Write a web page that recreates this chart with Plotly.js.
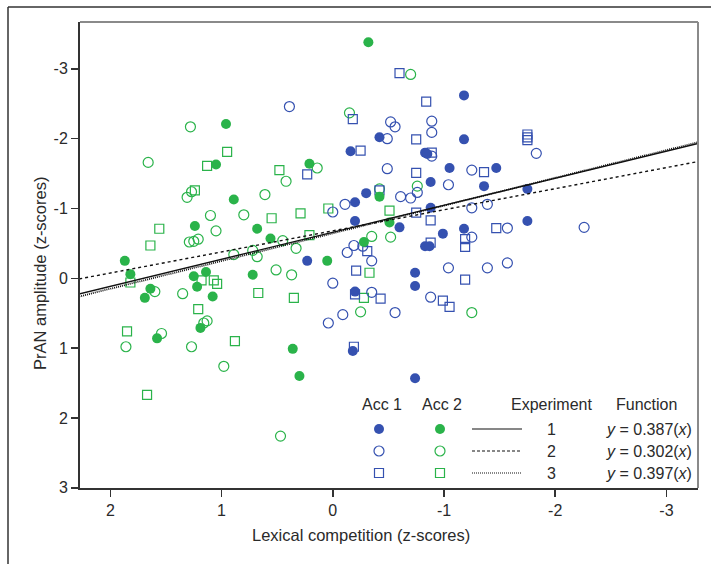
<!DOCTYPE html>
<html>
<head>
<meta charset="utf-8">
<script src="https://cdn.plot.ly/plotly-3.0.1.min.js"></script>
<style>html,body{margin:0;padding:0;background:#fff;}#chart{width:711px;height:564px;}</style>
</head>
<body>
<div id="chart"></div>
<script>
// ---- Data (Lexical competition z, PrAN amplitude z) ----
// Acc 1 (blue), Experiment 1 (filled circles)
const acc1Exp1X = [-1.18,-1.18,-0.42,-0.16,-0.83,-0.85,-1.05,-1.47,-0.88,-1.36,-1.75,-0.30,-0.20,-0.20,-0.88,-1.75,-0.60,-1.18,-0.99,-0.83,-0.87,0.23,-0.74,-0.74,-0.20,-0.18,-0.74];
const acc1Exp1Y = [-2.62,-1.99,-2.02,-1.82,-1.80,-1.78,-1.58,-1.58,-1.38,-1.32,-1.28,-1.22,-1.09,-0.82,-1.01,-0.82,-0.73,-0.71,-0.64,-0.46,-0.46,-0.25,-0.08,0.11,0.19,1.04,1.43];
// Acc 1 (blue), Experiment 2 (open circles)
const acc1Exp2X = [0.39,-0.52,-0.56,-0.89,-0.89,-0.49,-0.89,-1.83,-0.49,-1.25,-1.04,-0.61,-0.70,-0.76,-0.11,0.00,-1.25,-1.39,-1.57,-2.26,-1.25,-0.19,-0.27,-0.13,-0.35,0.00,-0.35,-0.09,0.04,-0.56,-1.04,-1.39,-1.57,-0.88];
const acc1Exp2Y = [-2.46,-2.24,-2.17,-2.25,-2.09,-2.00,-1.75,-1.79,-1.57,-1.55,-1.34,-1.17,-1.15,-1.23,-1.06,-0.95,-1.01,-1.06,-0.72,-0.73,-0.59,-0.47,-0.46,-0.37,-0.25,0.07,0.20,0.52,0.64,0.49,-0.15,-0.15,-0.22,0.27];
// Acc 1 (blue), Experiment 3 (open squares)
const acc1Exp3X = [-0.60,-0.84,-0.18,0.23,-0.25,-0.75,-0.89,-1.75,-1.75,-1.75,-0.75,-1.36,-0.42,-0.75,-0.88,-1.47,-1.19,-1.19,-0.88,-0.31,-0.21,-0.43,-0.99,-1.05,-1.19,-0.19,-0.20];
const acc1Exp3Y = [-2.94,-2.53,-2.28,-1.49,-1.83,-1.99,-1.80,-2.06,-2.02,-1.98,-1.51,-1.52,-1.26,-0.94,-0.83,-0.72,-0.56,-0.45,-0.51,-0.39,-0.11,0.29,0.32,0.41,0.02,0.98,0.23];
// Acc 2 (green), Experiment 1 (filled circles)
const acc2Exp1X = [-0.32,0.96,1.05,0.21,0.89,1.24,0.68,0.56,1.87,0.05,0.72,1.14,1.25,1.82,1.64,1.22,1.69,1.08,1.19,1.58,0.36,0.30,-0.42,-0.51,-0.28];
const acc2Exp1Y = [-3.38,-2.21,-1.63,-1.64,-1.13,-0.75,-0.71,-0.57,-0.25,-0.25,-0.05,-0.09,-0.03,-0.06,0.15,0.12,0.28,0.26,0.71,0.86,1.01,1.40,-1.17,-0.80,-0.52];
// Acc 2 (green), Experiment 2 (open circles)
const acc2Exp2X = [1.28,1.66,0.14,0.42,-0.15,-0.70,1.31,1.27,0.61,1.10,0.80,1.05,1.29,1.25,1.21,0.45,0.89,0.72,0.68,0.33,0.51,0.37,1.60,1.35,1.13,1.16,1.54,1.86,1.27,0.98,0.47,-0.42,-0.76,-0.35,-0.52,-0.25,-1.25];
const acc2Exp2Y = [-2.17,-1.66,-1.58,-1.39,-2.37,-2.92,-1.16,-1.24,-1.20,-0.90,-0.91,-0.68,-0.52,-0.53,-0.56,-0.54,-0.34,-0.40,-0.31,-0.43,-0.12,-0.05,0.19,0.22,0.61,0.64,0.79,0.98,0.98,1.26,2.26,-1.28,-1.32,-0.60,-0.59,0.48,0.49];
// Acc 2 (green), Experiment 3 (open squares)
const acc2Exp3X = [0.95,1.13,1.24,0.48,1.56,1.64,0.04,0.29,0.55,0.21,1.82,1.18,1.07,1.04,0.67,0.35,1.21,1.85,0.88,1.67,-0.51,-0.33,-0.28];
const acc2Exp3Y = [-1.81,-1.61,-1.26,-1.55,-0.71,-0.47,-1.00,-0.93,-0.86,-0.62,0.06,0.03,0.03,0.08,0.21,0.28,0.44,0.76,0.90,1.67,-0.97,-0.08,0.28];

// Regression functions per experiment
const experiments = ['1', '2', '3'];
const slopes = [0.387, 0.302, 0.397];
const intercepts = [-0.66, -0.68, -0.645];
const fitX = [2.28, -3.29];

// Axes
const xRange = [2.273, -3.284];
const yRange = [3.003, -3.671];
const xTicks = [2, 1, 0, -1, -2, -3];
const yTicks = [-3, -2, -1, 0, 1, 2, 3];

const BLUE = '#3551b0';
const GREEN = '#2ab34a';
const FONT = 'Liberation Sans, Arial, Helvetica, sans-serif';
const TXT = '#2a2a2a';

function pts(x, y, color, symbol) {
  const open = symbol !== 'circle';
  return {
    type: 'scatter', mode: 'markers', x: x, y: y, showlegend: false, hoverinfo: 'skip',
    marker: {
      symbol: symbol, size: symbol === 'square-open' ? 9 : 10,
      color: color, line: {color: color, width: open ? 1.2 : 0}
    }
  };
}

const traces = [
  pts(acc2Exp2X, acc2Exp2Y, GREEN, 'circle-open'),
  pts(acc2Exp3X, acc2Exp3Y, GREEN, 'square-open'),
  pts(acc1Exp2X, acc1Exp2Y, BLUE, 'circle-open'),
  pts(acc1Exp3X, acc1Exp3Y, BLUE, 'square-open'),
  pts(acc2Exp1X, acc2Exp1Y, GREEN, 'circle'),
  pts(acc1Exp1X, acc1Exp1Y, BLUE, 'circle')
];

const dashes = ['solid', '3px,3px', '1px,1px'];
const widths = [1.4, 1.4, 1.8];
experiments.forEach((e, i) => {
  traces.push({
    type: 'scatter', mode: 'lines', x: fitX,
    y: fitX.map(v => slopes[i] * v + intercepts[i]),
    line: {color: '#111', width: widths[i], dash: dashes[i]},
    showlegend: false, hoverinfo: 'skip'
  });
});

// ---- Table-style key (drawn in pixel-like overlay axes) ----
const keyRowsY = [429, 451, 473];
const keyAcc1X = 379, keyAcc2X = 440;
const keySymbols = ['circle', 'circle-open', 'square-open'];
keyRowsY.forEach((ry, i) => {
  [[keyAcc1X, BLUE], [keyAcc2X, GREEN]].forEach(([kx, col]) => {
    const open = keySymbols[i] !== 'circle';
    traces.push({
      type: 'scatter', mode: 'markers', x: [kx], y: [ry], xaxis: 'x2', yaxis: 'y2',
      showlegend: false, hoverinfo: 'skip',
      marker: {symbol: keySymbols[i], size: keySymbols[i] === 'square-open' ? 9 : 10,
               color: col, line: {color: col, width: open ? 1.2 : 0}}
    });
  });
});

const shapes = [
  // top and right frame (grey)
  {type: 'line', xref: 'paper', yref: 'paper', x0: 0, x1: 1, y0: 1, y1: 1, line: {color: '#8a8a8a', width: 2}},
  {type: 'line', xref: 'paper', yref: 'paper', x0: 1, x1: 1, y0: 0, y1: 1, line: {color: '#8a8a8a', width: 2}},
  // outer figure border
  {type: 'line', xref: 'paper', yref: 'paper', x0: -0.1165, x1: 1.03, y0: 1.032, y1: 1.032, line: {color: '#333', width: 1.5}},
  {type: 'line', xref: 'paper', yref: 'paper', x0: -0.1165, x1: -0.1165, y0: 1.032, y1: -0.2, line: {color: '#333', width: 1.5}}
];
keyRowsY.forEach((ry, i) => {
  shapes.push({type: 'line', xref: 'x2', yref: 'y2', x0: 472, x1: 522, y0: ry, y1: ry,
               line: {color: '#111', width: 1.2, dash: i === 0 ? 'solid' : (i === 1 ? '3px,2px' : '1px,1px')}});
});

const annotations = [
  {xref: 'x2', yref: 'y2', x: 382, y: 404, text: 'Acc 1', showarrow: false, font: {family: FONT, size: 16, color: TXT}},
  {xref: 'x2', yref: 'y2', x: 442, y: 404, text: 'Acc 2', showarrow: false, font: {family: FONT, size: 16, color: TXT}},
  {xref: 'x2', yref: 'y2', x: 551, y: 404, text: 'Experiment', showarrow: false, font: {family: FONT, size: 16, color: TXT}},
  {xref: 'x2', yref: 'y2', x: 646, y: 404, text: 'Function', showarrow: false, font: {family: FONT, size: 16, color: TXT}},
  {xref: 'paper', yref: 'paper', x: (40 - 80) / 618, y: (488 - 274) / 466, text: 'PrAN amplitude (z-scores)', textangle: -90,
   xanchor: 'center', yanchor: 'middle', showarrow: false, font: {family: FONT, size: 16.5, color: TXT}},
  {xref: 'paper', yref: 'paper', x: (361 - 80) / 618, y: (488 - 535) / 466, text: 'Lexical competition (z-scores)',
   xanchor: 'center', yanchor: 'middle', showarrow: false, font: {family: FONT, size: 16.5, color: TXT}}
];
keyRowsY.forEach((ry, i) => {
  annotations.push({xref: 'x2', yref: 'y2', x: 551, y: ry, text: experiments[i], showarrow: false,
                    font: {family: FONT, size: 16, color: TXT}});
  annotations.push({xref: 'x2', yref: 'y2', x: 694, y: ry, xanchor: 'right',
                    text: '<i>y</i> = ' + slopes[i].toFixed(3) + '(<i>x</i>)', showarrow: false,
                    font: {family: FONT, size: 16, color: TXT}});
});

const layout = {
  width: 711, height: 564,
  margin: {l: 80, r: 13, t: 22, b: 76},
  paper_bgcolor: '#fff', plot_bgcolor: '#fff',
  font: {family: FONT, size: 16, color: TXT},
  xaxis: {range: xRange, tickvals: xTicks, ticktext: xTicks.map(String), showgrid: false, zeroline: false,
          showline: true, linecolor: '#333', linewidth: 2, ticks: 'outside', ticklen: 7, tickwidth: 1.5,
          tickcolor: '#333', tickfont: {family: FONT, size: 16, color: TXT}},
  yaxis: {range: yRange, tickvals: yTicks, ticktext: yTicks.map(String), showgrid: false, zeroline: false,
          showline: true, linecolor: '#333', linewidth: 2, ticks: 'outside', ticklen: 7, tickwidth: 1.5,
          tickcolor: '#333', tickfont: {family: FONT, size: 16, color: TXT}},
  xaxis2: {overlaying: 'x', range: [80, 698], visible: false, fixedrange: true},
  yaxis2: {overlaying: 'y', range: [488, 22], visible: false, fixedrange: true},
  shapes: shapes,
  annotations: annotations,
  showlegend: false
};

Plotly.newPlot('chart', traces, layout, {staticPlot: true});
</script>
</body>
</html>
